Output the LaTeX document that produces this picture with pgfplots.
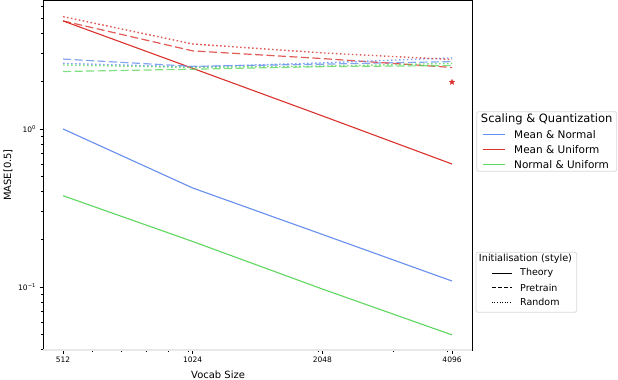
\documentclass[border=0pt]{standalone}
\usepackage{fontspec}
\setmainfont{DejaVu Sans}
\usepackage{pgfplots}
\pgfplotsset{compat=1.18}

\definecolor{cblue}{RGB}{102,143,238}
\definecolor{cred}{RGB}{218,50,45}
\definecolor{cgreen}{RGB}{95,215,95}

% filled five-point star, like matplotlib's '*'
\pgfdeclareplotmark{fstar}{%
  \pgfpathmoveto{\pgfpointpolar{90}{\pgfplotmarksize}}%
  \pgfpathlineto{\pgfpointpolar{126}{0.42\pgfplotmarksize}}%
  \pgfpathlineto{\pgfpointpolar{162}{\pgfplotmarksize}}%
  \pgfpathlineto{\pgfpointpolar{198}{0.42\pgfplotmarksize}}%
  \pgfpathlineto{\pgfpointpolar{234}{\pgfplotmarksize}}%
  \pgfpathlineto{\pgfpointpolar{270}{0.42\pgfplotmarksize}}%
  \pgfpathlineto{\pgfpointpolar{306}{\pgfplotmarksize}}%
  \pgfpathlineto{\pgfpointpolar{342}{0.42\pgfplotmarksize}}%
  \pgfpathlineto{\pgfpointpolar{18}{\pgfplotmarksize}}%
  \pgfpathlineto{\pgfpointpolar{54}{0.42\pgfplotmarksize}}%
  \pgfpathclose\pgfusepathqfillstroke}

\tikzset{
  theory/.style={line width=1.1bp},
  pretrain/.style={line width=1.2bp, opacity=0.8, dash pattern=on 8bp off 3.5bp},
  random/.style={line width=1.4bp, opacity=0.8, dash pattern=on 1.6bp off 2.4bp},
}

\begin{document}
\begin{tikzpicture}
\begin{axis}[
  scale only axis, width=429bp, height=350bp,
  at={(43bp,-350bp)}, anchor=south west,
  xmode=log, ymode=log,
  xmin=460, xmax=4558, ymin=0.0399, ymax=6.55,
  xtick={512,1024,2048,4096}, xticklabels={512,1024,2048,4096},
  minor xtick={600,700,800,900,1000,2000,3000,4000},
  ytick={0.1,1}, yticklabels={10\textsuperscript{−1},10\textsuperscript{0}},
  minor ytick={0.04,0.05,0.06,0.07,0.08,0.09,0.2,0.3,0.4,0.5,0.6,0.7,0.8,0.9,2,3,4,5,6},
  tick align=outside, major tick length=3.5bp, minor tick length=2bp,
  every tick/.style={black, line width=0.8bp},
  xtick pos=bottom, ytick pos=left,
  axis line style={line width=1bp},
  /pgf/number format/assume math mode=true,
  tick label style={font=\fontsize{7.5bp}{9bp}\selectfont},
  label style={font=\fontsize{7.7bp}{9bp}\selectfont},
  xlabel={Vocab Size}, ylabel={MASE[0.5]},
  every axis x label/.style={at={(rel axis cs:0.408,-0.0714)}, anchor=center},
  every axis y label/.style={at={(rel axis cs:-0.0816,0.5)}, anchor=center, rotate=90},
  clip=false,
]
% Theory
\addplot[theory, cblue] coordinates {(512,1.0) (1024,0.423) (2048,0.215) (4096,0.109)};
\addplot[theory, cred] coordinates {(512,4.83) (1024,2.42) (2048,1.21) (4096,0.60)};
\addplot[theory, cgreen] coordinates {(512,0.378) (1024,0.194) (2048,0.097) (4096,0.0497)};
% Pretrain
\addplot[pretrain, cblue] coordinates {(512,2.77) (1024,2.49) (2048,2.57) (4096,2.67)};
\addplot[pretrain, cred] coordinates {(512,4.83) (1024,3.12) (2048,2.79) (4096,2.45)};
\addplot[pretrain, cgreen] coordinates {(512,2.31) (1024,2.39) (2048,2.48) (4096,2.52)};
% Random
\addplot[random, cblue] coordinates {(512,2.60) (1024,2.47) (2048,2.62) (4096,2.82)};
\addplot[random, cred] coordinates {(512,5.14) (1024,3.45) (2048,3.03) (4096,2.75)};
\addplot[random, cgreen] coordinates {(512,2.54) (1024,2.45) (2048,2.50) (4096,2.60)};
% marker
\addplot[only marks, mark=fstar, mark size=2.8bp, cred] coordinates {(4096,1.98)};
\draw[black!9, line width=1.2bp] (rel axis cs:0,0) -- (rel axis cs:1,0);
\end{axis}

% legend: Scaling & Quantization
\draw[black!15, fill=white, rounded corners=2bp, line width=0.8bp] (476.7bp,-111.7bp) rectangle (616.7bp,-171.3bp);
\node[font=\fontsize{11.5bp}{13bp}\selectfont] at (546.7bp,-119.3bp) {Scaling \& Quantization};
\draw[cblue, line width=1.1bp] (482.7bp,-134.3bp) -- (505bp,-134.3bp);
\draw[cred, line width=1.1bp] (482.7bp,-149.3bp) -- (505bp,-149.3bp);
\draw[cgreen, line width=1.1bp] (482.7bp,-164.3bp) -- (505bp,-164.3bp);
\begin{scope}[every node/.style={anchor=west, inner sep=0pt, font=\fontsize{10.5bp}{12bp}\selectfont}]
\node at (514bp,-134.3bp) {Mean \& Normal};
\node at (514bp,-149.3bp) {Mean \& Uniform};
\node at (514bp,-164.3bp) {Normal \& Uniform};
\end{scope}

% legend: Initialisation (style)
\draw[black!15, fill=white, rounded corners=2bp, line width=0.8bp] (476bp,-252.3bp) rectangle (576.7bp,-312.3bp);
\node[font=\fontsize{9.7bp}{11bp}\selectfont] at (525.5bp,-258.8bp) {Initialisation (style)};
\draw[black, line width=1.1bp] (491.7bp,-273.3bp) -- (511.7bp,-273.3bp);
\draw[black, line width=1.1bp, dash pattern=on 4bp off 2bp] (491.7bp,-287.7bp) -- (511.7bp,-287.7bp);
\draw[black, line width=1.1bp, dash pattern=on 1bp off 1.6bp] (491.7bp,-302.1bp) -- (511.7bp,-302.1bp);
\begin{scope}[every node/.style={anchor=west, inner sep=0pt, font=\fontsize{9.5bp}{11bp}\selectfont}]
\node at (520bp,-273.3bp) {Theory};
\node at (520bp,-287.7bp) {Pretrain};
\node at (520bp,-302.1bp) {Random};
\end{scope}

\pgfresetboundingbox
\useasboundingbox (0bp,0bp) rectangle (618bp,-380bp);
\end{tikzpicture}
\end{document}
